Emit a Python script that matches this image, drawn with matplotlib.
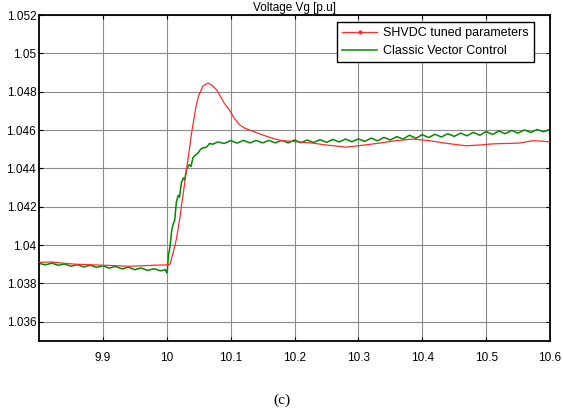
import numpy as np
import matplotlib
matplotlib.use('Agg')
import matplotlib.pyplot as plt
from matplotlib.lines import Line2D

plt.rcParams['font.family'] = ['Liberation Sans', 'DejaVu Sans']

# SHVDC tuned parameters (red)
t_red = [9.80, 9.82, 9.84, 9.86, 9.88, 9.90, 9.92, 9.94, 9.96, 9.98, 10.00, 10.005,
         10.01, 10.015, 10.02, 10.026, 10.031, 10.035, 10.039, 10.046, 10.05, 10.057,
         10.065, 10.072, 10.078, 10.085, 10.09, 10.098, 10.106, 10.114, 10.122, 10.13,
         10.14, 10.15, 10.16, 10.17, 10.18, 10.20, 10.228, 10.25, 10.281, 10.30, 10.333,
         10.36, 10.385, 10.41, 10.44, 10.468, 10.49, 10.51, 10.552, 10.572, 10.585, 10.6]
v_red = [1.03910, 1.03912, 1.03905, 1.03900, 1.03898, 1.03895, 1.03893, 1.03890, 1.03892,
         1.03895, 1.03897, 1.03900,
         1.0396, 1.0403, 1.0413, 1.04274, 1.04396, 1.0449, 1.04587, 1.04727, 1.0478, 1.04831,
         1.04845, 1.0483, 1.0481, 1.0477, 1.0474, 1.04705, 1.0466, 1.04627, 1.0461, 1.0460,
         1.04587, 1.04575, 1.04563, 1.04553, 1.04545, 1.04540, 1.04532, 1.04522, 1.04511,
         1.04518, 1.04532, 1.04545, 1.04553, 1.04545, 1.04530, 1.04518, 1.04522, 1.04528,
         1.04532, 1.04544, 1.04543, 1.04538]

# Classic Vector Control (green)
t_grn = [9.80, 9.81, 9.82, 9.83, 9.84, 9.85, 9.86, 9.87, 9.88, 9.89, 9.90, 9.91, 9.92,
         9.93, 9.94, 9.95, 9.96, 9.97, 9.98, 9.99, 9.998, 10.0, 10.001,
         10.0025, 10.005, 10.0075, 10.01, 10.0125, 10.015, 10.018, 10.02, 10.023, 10.026,
         10.028, 10.031, 10.035, 10.038, 10.041, 10.045, 10.049, 10.053, 10.057, 10.062,
         10.067, 10.072, 10.08, 10.09, 10.10, 10.11, 10.12, 10.13,
         10.14, 10.15, 10.16, 10.17, 10.18, 10.19, 10.20, 10.21, 10.22, 10.23, 10.24,
         10.25, 10.26, 10.27, 10.28, 10.29, 10.30, 10.31, 10.32, 10.33, 10.34, 10.35,
         10.36, 10.37, 10.38, 10.39, 10.40, 10.41, 10.42, 10.43, 10.44, 10.45, 10.46,
         10.47, 10.48, 10.49, 10.50, 10.51, 10.52, 10.53, 10.54, 10.55, 10.56, 10.57,
         10.58, 10.59, 10.60]
v_grn = [1.03905, 1.03897, 1.03906, 1.03895, 1.03902, 1.03890, 1.03898, 1.03886, 1.03895,
         1.03884, 1.03892, 1.03880, 1.03889, 1.03876, 1.03885, 1.03872, 1.03881, 1.03868,
         1.03877, 1.03866, 1.03872, 1.03855, 1.03870,
         1.03944, 1.0399, 1.0407, 1.0411, 1.0413, 1.04224, 1.0426, 1.0425, 1.04326, 1.0435,
         1.0434, 1.04396, 1.0442, 1.0441, 1.04456, 1.0447, 1.0448, 1.0450, 1.04508, 1.0451,
         1.0453, 1.04526, 1.04538, 1.04530, 1.04545, 1.04532, 1.04546, 1.04533,
         1.04546, 1.04533, 1.04546, 1.04533, 1.04546, 1.04533, 1.04548, 1.04534, 1.04548,
         1.04535, 1.04550, 1.04536, 1.04551, 1.04538, 1.04553, 1.04539, 1.04554, 1.04541,
         1.04558, 1.04544, 1.04562, 1.04548, 1.04566, 1.04553, 1.04573, 1.04557, 1.04576,
         1.04561, 1.04578, 1.04564, 1.04581, 1.04567, 1.04584, 1.04570, 1.04588, 1.04573,
         1.04592, 1.04577, 1.04595, 1.04581, 1.04598, 1.04584, 1.04601, 1.04587, 1.04603,
         1.04591, 1.04604]

xticks = [9.9, 10, 10.1, 10.2, 10.3, 10.4, 10.5, 10.6]
xticklabels = ['9.9', '10', '10.1', '10.2', '10.3', '10.4', '10.5', '10.6']
yticks = [1.036, 1.038, 1.04, 1.042, 1.044, 1.046, 1.048, 1.05, 1.052]
yticklabels = ['1.036', '1.038', '1.04', '1.042', '1.044', '1.046', '1.048', '1.05', '1.052']

fig = plt.figure(figsize=(5.63, 4.12), dpi=100)
ax = fig.add_axes([39/563, 1 - 341/412, (550 - 39)/563, (341 - 15)/412])

ax.plot(t_red, v_red, color='#ff2a2a', lw=0.9, zorder=3)
ax.plot(t_grn, v_grn, color='#008a00', lw=1.1, zorder=2)

ax.set_xlim(9.8, 10.6)
ax.set_ylim(1.035, 1.052)
ax.set_xticks(xticks)
ax.set_xticklabels(xticklabels)
ax.set_yticks(yticks)
ax.set_yticklabels(yticklabels)
ax.tick_params(direction='in', length=3, top=True, right=True, labelsize=8.5)
ax.tick_params(axis='x', pad=8)
ax.tick_params(axis='y', pad=2)
ax.grid(True, color='#8c8c8c', lw=0.8)
for s in ax.spines.values():
    s.set_linewidth(1.3)

handles = [Line2D([], [], color='#ff2a2a', lw=0.9, marker='.', markersize=4),
           Line2D([], [], color='#008a00', lw=1.1)]
leg = ax.legend(handles, ['SHVDC tuned parameters', 'Classic Vector Control'],
                loc='upper right', bbox_to_anchor=(0.9687, 0.9785), fontsize=9,
                fancybox=False, framealpha=1, edgecolor='black', handlelength=2.8,
                borderpad=0.4, labelspacing=0.5, handletextpad=0.5, borderaxespad=0)
leg.get_frame().set_linewidth(1.0)

fig.text(0.523, 1 - 11/412, 'Voltage Vg [p.u]', ha='center', va='baseline', fontsize=8.5)
fig.text(0.501, 1 - 400/412, '(c)', ha='center', va='center', fontsize=11,
         family='Liberation Serif')

fig.savefig('out.png', dpi=100)
